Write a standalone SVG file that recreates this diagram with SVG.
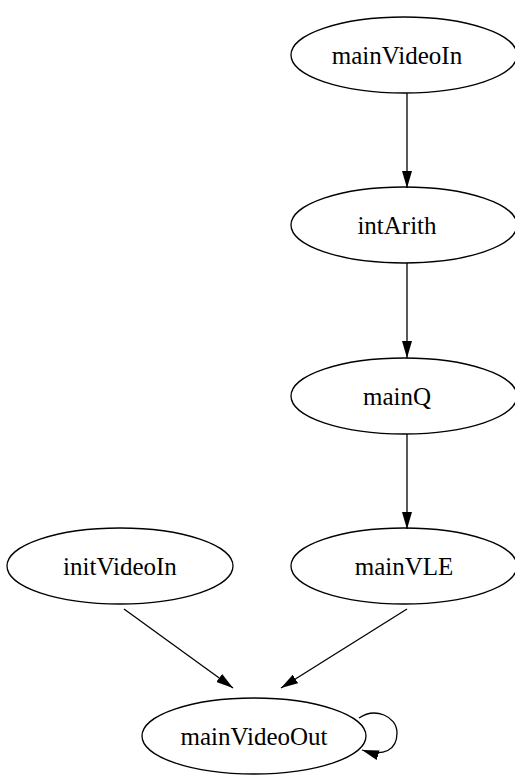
<svg xmlns="http://www.w3.org/2000/svg" width="515" height="776" viewBox="0 0 515 776">
<defs>
<style>
.n ellipse{fill:none;stroke:#000;stroke-width:1.3}
.n text{font-family:"Liberation Serif","Times New Roman",serif;font-size:25px;text-anchor:middle;fill:#000}
.e{fill:none;stroke:#000;stroke-width:1.3}
</style>
<marker id="ah" markerWidth="17" markerHeight="10" refX="17" refY="5" orient="auto" markerUnits="userSpaceOnUse">
<path d="M0,0 L17,5 L0,10 Z" fill="#000"/>
</marker>
</defs>
<rect width="515" height="776" fill="#fff"/>
<g id="edges">
<path class="e" d="M407,93 L407,188" marker-end="url(#ah)"/>
<path class="e" d="M407,263 L407,358" marker-end="url(#ah)"/>
<path class="e" d="M407,434 L407,529" marker-end="url(#ah)"/>
<path class="e" d="M124,609 L233,688" marker-end="url(#ah)"/>
<path class="e" d="M407,609 L281,688" marker-end="url(#ah)"/>
<path class="e" d="M359,718 C375,707 397,716 397,733 C397,750 384,757 362,750" marker-end="url(#ah)"/>
</g>
<g id="mainVideoIn" class="n"><ellipse cx="404" cy="55" rx="113" ry="38"/><text x="397" y="64">mainVideoIn</text></g>
<g id="intArith" class="n"><ellipse cx="404" cy="225" rx="113" ry="38"/><text x="397" y="234">intArith</text></g>
<g id="mainQ" class="n"><ellipse cx="404" cy="396" rx="113" ry="38"/><text x="397" y="405">mainQ</text></g>
<g id="mainVLE" class="n"><ellipse cx="404" cy="566" rx="113" ry="38"/><text x="404" y="575">mainVLE</text></g>
<g id="initVideoIn" class="n"><ellipse cx="120" cy="566" rx="113" ry="38"/><text x="120" y="575">initVideoIn</text></g>
<g id="mainVideoOut" class="n"><ellipse cx="254" cy="736" rx="112" ry="38"/><text x="254" y="745">mainVideoOut</text></g>
</svg>
